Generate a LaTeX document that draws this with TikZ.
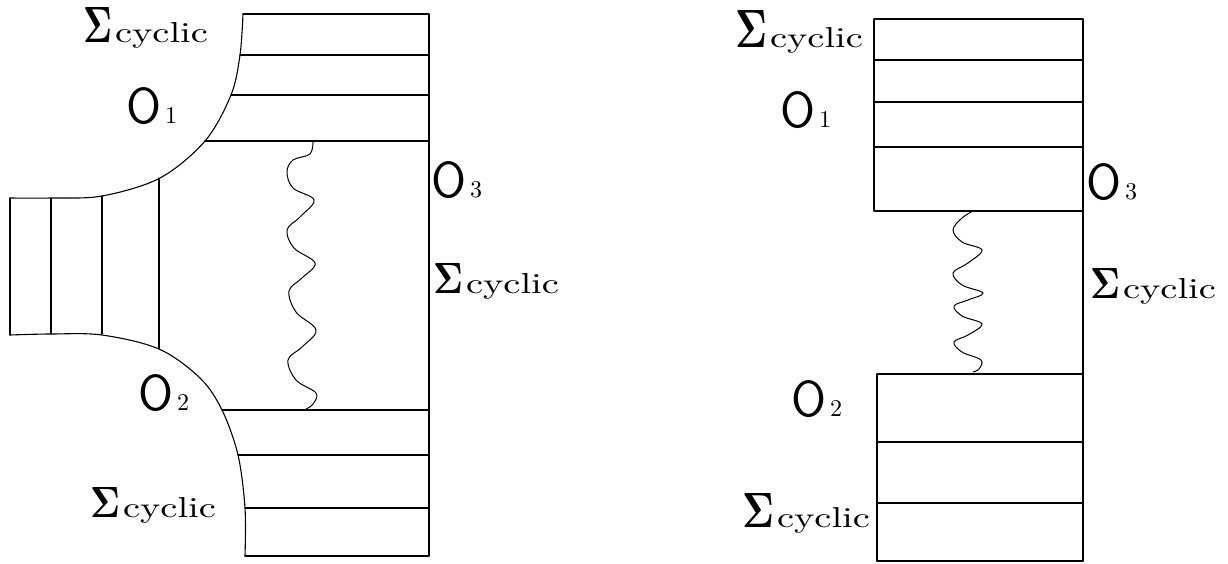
\RequirePackage{fix-cm}
\documentclass[tikz,border=0pt]{standalone}
\usepackage{graphicx}
\newcommand\sigcyc[2]{\resizebox{#1pt}{#2pt}{$\mathbf{\Sigma}$}\hspace{3pt}\resizebox{93pt}{20pt}{cyclic}}
\newcommand\ovx[1]{\resizebox{35pt}{36pt}{\sffamily O}\hspace{4pt}\resizebox{!}{16pt}{#1}}
\tikzset{
  lab/.style={anchor=base west, inner sep=0pt, outer sep=0pt},
  ln/.style={line width=1.1pt, line join=round, line cap=round},
  wave/.style={line width=1pt, smooth, tension=0.6}
}
\begin{document}
\begin{tikzpicture}[x=1pt, y=-1pt]
\useasboundingbox (0,0) rectangle (1228,563);
% ---------------- left diagram ----------------
% upper stack
\draw[ln] (243,14) -- (429,14);
\draw[ln] (240,55) -- (429,55);
\draw[ln] (231,95) -- (429,95);
\draw[ln] (205,141) -- (429,141);
% right edge
\draw[ln] (429,14) -- (429,556);
% upper curve O1
\draw[ln] plot[smooth, tension=0.55] coordinates {(243,14) (240,55) (231,95) (205,141) (160,178) (102,196) (51,198) (10,198)};
% left box
\draw[ln] (10,198) -- (10,335);
\draw[ln] (51,198) -- (51,334);
\draw[ln] (102,196) -- (102,334);
\draw[ln] (159,178) -- (159,349);
% lower curve O2
\draw[ln] plot[smooth, tension=0.55] coordinates {(10,335) (51,334) (102,335) (159,349) (200,378) (222,410) (238,455) (245,508) (245,556)};
% lower stack
\draw[ln] (222,410) -- (429,410);
\draw[ln] (238,455) -- (429,455);
\draw[ln] (245,508) -- (429,508);
\draw[ln] (245,556) -- (429,556);
% wavy line
\draw[wave] plot coordinates {(313,141) (310,154) (293,160) (287,172) (293,188) (314,200) (300,217) (287,230) (294,248) (315,263) (302,278) (289,291) (296,312) (316,330) (302,347) (288,360) (296,380) (316,393) (313,404) (306,409)};
% labels
\node[lab] (sA) at (83,42) {\sigcyc{29}{35}};
\node[lab] (oA1) at (126,123) {\ovx{1}};
\node[lab] (oA3) at (431,197) {\ovx{3}};
\node[lab] (sB) at (433,293) {\sigcyc{30}{30}};
\node[lab] (oA2) at (138,410) {\ovx{2}};
\node[lab] (sC) at (90,517) {\sigcyc{30}{30}};
% ---------------- right diagram ----------------
\draw[ln] (874,19) -- (1083,19);
\draw[ln] (874,60) -- (1083,60);
\draw[ln] (874,102) -- (1083,102);
\draw[ln] (874,147) -- (1083,147);
\draw[ln] (874,211) -- (1083,211);
\draw[ln] (874,19) -- (874,211);
\draw[ln] (1083,19) -- (1083,561);
\draw[ln] (877,374) -- (1083,374);
\draw[ln] (877,442) -- (1083,442);
\draw[ln] (877,503) -- (1083,503);
\draw[ln] (877,561) -- (1083,561);
\draw[ln] (877,374) -- (877,561);
\draw[wave] plot coordinates {(973,211) (962,218) (953,230) (962,242) (982,250) (968,263) (953,273) (962,285) (983,293) (968,300) (954,306) (962,316) (982,324) (968,335) (954,342) (962,352) (981,360) (979,369) (973,372)};
\node[lab] (sD) at (735,47) {\sigcyc{32}{37}};
\node[lab] (oB1) at (780,127) {\ovx{1}};
\node[lab] (oB3) at (1086,199) {\ovx{3}};
\node[lab] (sE) at (1090,298) {\sigcyc{30}{30}};
\node[lab] (oB2) at (791,416) {\ovx{2}};
\node[lab] (sF) at (742,527) {\sigcyc{32}{34}};
\end{tikzpicture}
\end{document}
